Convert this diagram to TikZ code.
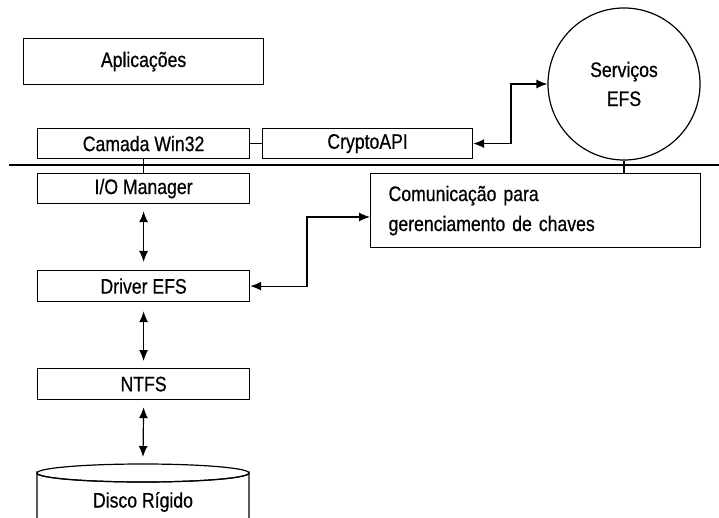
\documentclass[tikz,border=0pt]{standalone}
\usepackage{fontspec}
\setmainfont{Liberation Sans}
\newfontfamily\narrowsans[FakeStretch=0.84,FakeBold=0.6]{Liberation Sans}
\usetikzlibrary{arrows.meta}
\begin{document}
\begin{tikzpicture}[x=1pt,y=-1pt,
  line width=1.2pt,
  font=\narrowsans\fontsize{21}{25}\selectfont,
  layerbox/.style={draw, rectangle, inner sep=0pt, anchor=north west},
  duplex/.style={{Latex[length=11pt,width=9pt]}-{Latex[length=11pt,width=9pt]}}]
\useasboundingbox (0,0) rectangle (719,518);

% user-mode components
\node[layerbox, minimum width=240pt, minimum height=46pt] (apps) at (23,38) {Aplicações};
\node[layerbox, minimum width=212pt, minimum height=30pt] (win32) at (37,128) {Camada Win32};
\node[layerbox, minimum width=210pt, minimum height=30pt] (crypto) at (262,128) {CryptoAPI};
\node[draw, circle, minimum size=152pt, inner sep=0pt, align=center] (efssvc) at (624,84)
  {Serviços\\[4pt]EFS};

% user/kernel boundary
\coordinate (bl) at (9,165);
\coordinate (br) at (719,165);
\draw (bl) -- (br);

% kernel-mode components
\node[layerbox, minimum width=212pt, minimum height=30pt] (io) at (37,173) {I/O Manager};
\node[layerbox, minimum width=212pt, minimum height=31pt] (drv) at (37,270) {Driver EFS};
\node[layerbox, minimum width=212pt, minimum height=31pt] (ntfs) at (37,368) {NTFS};
\node[layerbox, minimum width=330pt, minimum height=74pt, align=left, text width=300pt]
  (keys) at (370,173) {\hspace*{3pt}Comunicação para\\[5pt]\hspace*{3pt}gerenciamento de chaves};

% hard disk (cylinder cut by the page edge)
\coordinate (dtop) at (143,473);
\draw (37,518) -- (37,473) arc[start angle=180, end angle=360, x radius=106pt, y radius=9pt]
      -- (249,518);
\draw (dtop) ellipse[x radius=106pt, y radius=9pt];
\node (disk) at (143,502) {Disco Rígido};

% plain links
\draw (win32.east) -- (crypto.west);
\draw (win32.south) -- (io.north);
\draw (efssvc.south) -- (keys.north -| efssvc.south);

% vertical data paths
\draw[duplex] ([yshift=-7pt]io.south) -- ([yshift=8pt]drv.north);
\draw[duplex] ([yshift=-9pt]drv.south) -- ([yshift=7pt]ntfs.north);
\draw[duplex] ([yshift=-7pt]ntfs.south) -- ([yshift=7pt]dtop |- 0,464);

% key management and service paths
\coordinate (kbend) at (307,217);
\coordinate (sbend) at (511,84);
\draw[duplex] (drv.east) -| (kbend) -- (keys.west |- kbend);
\draw[duplex] (crypto.east) -| (sbend) -- (efssvc.west);
\end{tikzpicture}
\end{document}
